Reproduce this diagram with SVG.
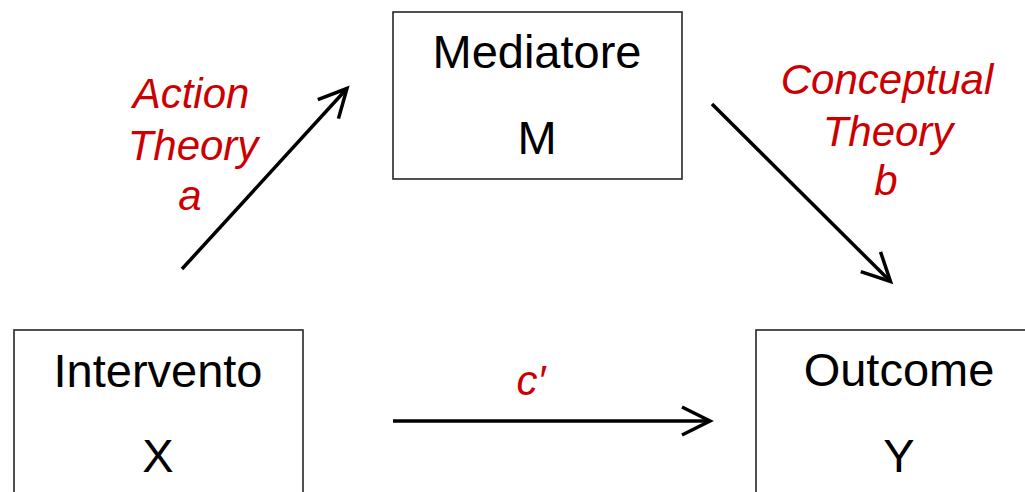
<svg xmlns="http://www.w3.org/2000/svg" width="1025" height="492" viewBox="0 0 1025 492">
<style>
.box{fill:#fff;stroke:#262626;stroke-width:1.6}
.t{font-family:"Liberation Sans",Arial,sans-serif;font-size:47px;fill:#000;text-anchor:middle}
.lab{font-family:"Liberation Sans",Arial,sans-serif;font-size:42px;font-style:italic;fill:#cc0000;text-anchor:middle}
.con{fill:none;stroke:#000;stroke-width:3.5}
</style>
<defs>
<marker id="arr" markerUnits="userSpaceOnUse" markerWidth="40" markerHeight="40" viewBox="-34 -20 40 40" refX="0" refY="0" orient="auto" overflow="visible">
<path d="M-28,-14 L0,0 L-28,14" fill="none" stroke="#000" stroke-width="3.5" stroke-linejoin="miter"/>
</marker>
</defs>
<rect width="1025" height="492" fill="#fff"/>
<g id="node-mediatore">
<rect class="box" x="393" y="12" width="289" height="167"/>
<text class="t" x="537" y="68">Mediatore</text>
<text class="t" x="537" y="154">M</text>
</g>
<g id="node-intervento">
<rect class="box" x="14" y="330" width="289" height="180"/>
<text class="t" x="158" y="387">Intervento</text>
<text class="t" x="158" y="472">X</text>
</g>
<g id="node-outcome">
<rect class="box" x="756" y="330" width="289" height="180"/>
<text class="t" x="899" y="386">Outcome</text>
<text class="t" x="899" y="472">Y</text>
</g>
<g id="connectors">
<line class="con" x1="182" y1="269" x2="347" y2="88.5" marker-end="url(#arr)"/>
<line class="con" x1="712" y1="104" x2="890.5" y2="281.5" marker-end="url(#arr)"/>
<line class="con" x1="393" y1="421" x2="710" y2="421" marker-end="url(#arr)"/>
</g>
<g id="labels">
<text class="lab" x="191" y="108">Action</text>
<text class="lab" x="193" y="160">Theory</text>
<text class="lab" x="190" y="210">a</text>
<text class="lab" x="887" y="94">Conceptual</text>
<text class="lab" x="888" y="146">Theory</text>
<text class="lab" x="886" y="195">b</text>
<text class="lab" x="531" y="395">c′</text>
</g>
</svg>
